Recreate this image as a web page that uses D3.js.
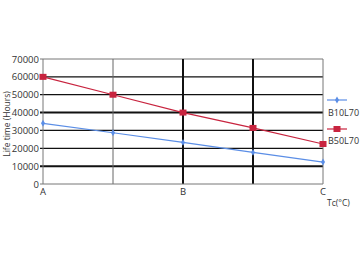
<!DOCTYPE html>
<html lang="en">
<head>
<meta charset="UTF-8">
<script src="https://d3js.org/d3.v7.min.js"></script>
<style>
  body { margin: 0; background: #fff; }
  #plot { position: absolute; width: 360px; height: 262px; }
  text { font-family: "Open Sans", sans-serif; fill: #333; }
</style>
</head>
<body>
<div id="plot"></div>
<script>
// chart values
var categories = ["A", "", "B", "", "C"];
var b10l70 = [34000, 28700, 23300, 17700, 12300];
var b50l70 = [60000, 50000, 40000, 31400, 22400];
var yTicks = [0, 10000, 20000, 30000, 40000, 50000, 60000, 70000];
var seriesNames = ["B10L70", "B50L70"];

function draw() {
  var width = 360, height = 262;
  var left = 43, right = 323, top = 59, bottom = 184;

  var svg = d3.select("#plot").append("svg")
      .attr("width", width)
      .attr("height", height);

  var x = d3.scalePoint().domain(d3.range(categories.length)).range([left, right]);
  var y = d3.scaleLinear().domain([0, 70000]).range([bottom, top]);

  // horizontal grid
  svg.append("g").selectAll("line")
    .data(yTicks.slice(1))
    .join("line")
      .attr("x1", left - 3).attr("x2", right)
      .attr("y1", d => y(d)).attr("y2", d => y(d))
      .attr("stroke", d => d == 70000 ? "#777" : "#111")
      .attr("stroke-width", d => d == 70000 ? 1 : (d == 10000 || d == 40000) ? 2 : 1.3);

  // vertical grid
  svg.append("g").selectAll("line")
    .data(d3.range(1, categories.length))
    .join("line")
      .attr("x1", d => x(d)).attr("x2", d => x(d))
      .attr("y1", top).attr("y2", bottom)
      .attr("stroke", d => d == 1 ? "#666" : d == 4 ? "#777" : "#111")
      .attr("stroke-width", d => d == 1 ? 1 : d == 4 ? 1 : 2);

  // left axis + baseline
  svg.append("line")
    .attr("x1", left).attr("x2", left).attr("y1", top).attr("y2", bottom)
    .attr("stroke", "#777").attr("stroke-width", 1);
  svg.append("line")
    .attr("x1", left - 3).attr("x2", right).attr("y1", bottom).attr("y2", bottom)
    .attr("stroke", "#777").attr("stroke-width", 1);

  // y tick labels
  svg.append("g")
      .attr("font-size", 9.5)
      .attr("text-anchor", "end")
    .selectAll("text")
    .data(yTicks)
    .join("text")
      .attr("x", left - 4)
      .attr("y", d => y(d) + 3.5)
      .text(d => d);

  // x labels
  svg.append("g")
      .attr("font-size", 9.5)
      .attr("text-anchor", "middle")
    .selectAll("text")
    .data(categories)
    .join("text")
      .attr("x", (d, i) => x(i))
      .attr("y", 195)
      .text(d => d);

  svg.append("text")
    .attr("x", 327).attr("y", 206)
    .attr("font-size", 8.5)
    .text("Tc(°C)");

  svg.append("text")
    .attr("transform", "translate(10,124) rotate(-90)")
    .attr("text-anchor", "middle")
    .attr("font-size", 8.5)
    .text("Life time (Hours)");

  var line = d3.line().x((d, i) => x(i)).y(d => y(d));
  var blue = "#5b8ee6", red = "#c8243f";

  // B10L70
  svg.append("path").datum(b10l70)
    .attr("d", line).attr("fill", "none")
    .attr("stroke", blue).attr("stroke-width", 1.2);
  svg.append("g").selectAll("path")
    .data(b10l70)
    .join("path")
      .attr("transform", (d, i) => `translate(${x(i)},${y(d)})`)
      .attr("d", d3.symbol(d3.symbolDiamond, 14))
      .attr("fill", blue);

  // B50L70
  svg.append("path").datum(b50l70)
    .attr("d", line).attr("fill", "none")
    .attr("stroke", red).attr("stroke-width", 1.2);
  svg.append("g").selectAll("rect")
    .data(b50l70)
    .join("rect")
      .attr("x", (d, i) => x(i) - 3.5)
      .attr("y", d => y(d) - 3)
      .attr("width", 7).attr("height", 6)
      .attr("fill", red);

  // legend
  var lg = svg.append("g");
  lg.append("line").attr("x1", 327).attr("x2", 347).attr("y1", 100).attr("y2", 100)
    .attr("stroke", blue).attr("stroke-width", 1.2);
  lg.append("path").attr("transform", "translate(337,100)")
    .attr("d", d3.symbol(d3.symbolDiamond, 14)).attr("fill", blue);
  lg.append("line").attr("x1", 327).attr("x2", 347).attr("y1", 129).attr("y2", 129)
    .attr("stroke", red).attr("stroke-width", 1.2);
  lg.append("rect").attr("x", 333.5).attr("y", 126).attr("width", 7).attr("height", 6)
    .attr("fill", red);
  lg.selectAll("text")
    .data(seriesNames)
    .join("text")
      .attr("x", 328)
      .attr("y", (d, i) => 116 + i * 28)
      .attr("font-size", 9)
      .text(d => d);
}

draw();
</script>
</body>
</html>
